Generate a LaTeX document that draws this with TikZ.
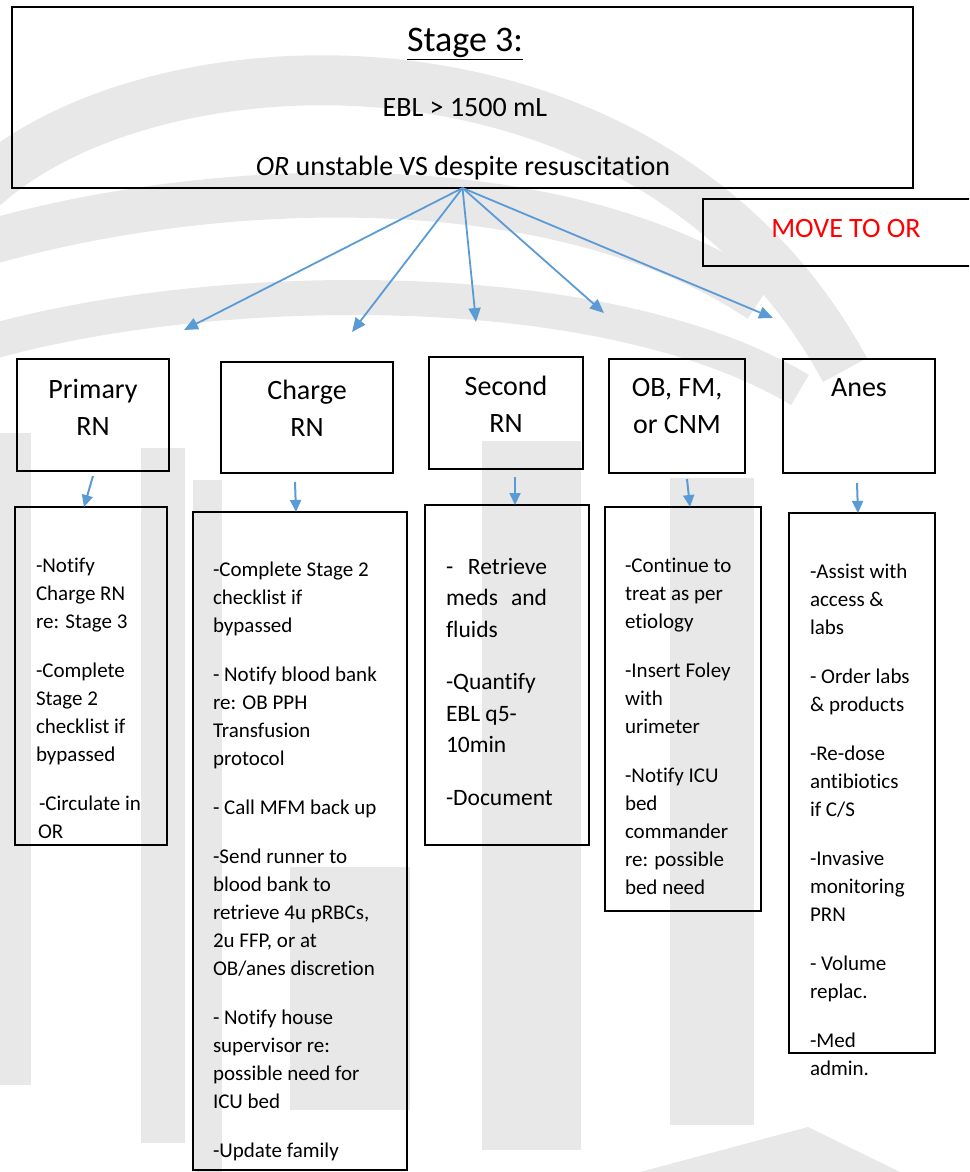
\documentclass[tikz,border=0pt]{standalone}
\usepackage{fontspec}
\setmainfont{Carlito}[Ligatures=NoCommon]
\usetikzlibrary{arrows.meta}
\definecolor{arrowblue}{HTML}{5B9BD5}
\definecolor{wmgray}{HTML}{E8E8E8}
\definecolor{orred}{HTML}{FF0000}

\begin{document}
\begin{tikzpicture}[x=1pt, y=-1pt,
  every node/.style={inner sep=0pt, outer sep=0pt},
  box/.style={draw=black, line width=1.6pt, anchor=north west},
  hdr/.style={font=\fontsize{28}{37}\selectfont, align=center, anchor=north},
  body/.style={font=\fontsize{21}{28}\selectfont, align=left, anchor=north west},
  bigbody/.style={font=\fontsize{23.5}{31.5}\selectfont, align=left, anchor=north west},
  bigarrow/.style={draw=arrowblue, line width=1.8pt, -{Triangle[length=14pt, width=12pt]}},
  smallarrow/.style={draw=arrowblue, line width=2pt, -{Triangle[length=12pt, width=11pt]}},
  wm/.style={fill=wmgray, draw=none},
  wmband/.style={draw=wmgray, line cap=butt},
  ]
  \path[use as bounding box] (0,0) rectangle (969,1172);
  \clip (0,0) rectangle (969,1172);

  % watermark
  \draw[wmband, line width=50pt] (-20,190) .. controls (150,30) and (650,10) .. (845,370);
  \draw[wmband, line width=45pt] (-20,245) .. controls (200,180) and (550,160) .. (760,300);
  \draw[wmband, line width=35pt] (-20,345) .. controls (200,280) and (600,270) .. (800,390);
  \fill[wm] (0,433) rectangle (31,1085);
  \fill[wm] (141,448) rectangle (185,1143);
  \fill[wm] (193,480) rectangle (222,1172);
  \fill[wm] (290,867) rectangle (410,1110);
  \fill[wm] (482,441) rectangle (581,1150);
  \fill[wm] (670,478) rectangle (754,1125);
  \fill[wm] (640,1172) -- (808,1127) -- (900,1172) -- cycle;

  % stage box
  \node[box, minimum width=901pt, minimum height=181pt] (stage) at (12,7) {};
  \node[font=\fontsize{36}{40}\selectfont, anchor=base] (stagetitle) at (465,52) {\underline{Stage 3:}};
  \node[font=\fontsize{28}{32}\selectfont, anchor=base] (ebl) at (465,116) {EBL > 1500 mL};
  \node[font=\fontsize{28}{32}\selectfont, anchor=base] (unstable) at (463,175) {\textit{OR} unstable VS despite resuscitation};

  \node[box, minimum width=290pt, minimum height=67pt] (moveor) at (703,199) {};
  \node[font=\fontsize{28}{32}\selectfont, anchor=base, text=orred] (moveortxt) at (846,237) {MOVE TO OR};

  % role boxes
  \node[box, minimum width=152pt, minimum height=112pt] (hprim) at (17,359) {};
  \node[box, minimum width=172pt, minimum height=111pt] (hchg) at (221,362) {};
  \node[box, minimum width=154pt, minimum height=112pt] (hsec) at (429,357) {};
  \node[box, minimum width=136pt, minimum height=114pt] (hob) at (609,359) {};
  \node[box, minimum width=152pt, minimum height=114pt] (hanes) at (783,359) {};
  \node[hdr] (hprimtxt) at (93,372.5) {\strut Primary\\RN};
  \node[hdr] (hchgtxt) at (307,374) {\strut Charge\\RN};
  \node[hdr] (hsectxt) at (506,369.5) {\strut Second\\RN};
  \node[hdr] (hobtxt) at (677,370.5) {\strut OB, FM,\\or CNM};
  \node[hdr] (hanestxt) at (859,370.5) {\strut Anes};

  % task boxes
  \node[box, minimum width=152pt, minimum height=338pt] (tprim) at (15,507) {};
  \node[box, minimum width=214pt, minimum height=658pt] (tchg) at (193,512) {};
  \node[box, minimum width=164pt, minimum height=340pt] (tsec) at (425,505) {};
  \node[box, minimum width=156pt, minimum height=404pt] (tob) at (605,507) {};
  \node[box, minimum width=146pt, minimum height=540pt] (tanes) at (789,513) {};

  \node[body] (tprimtxt) at (36,552.7) {\strut -Notify\\ Charge RN\\ re: Stage 3\\[21pt]
    -Complete\\ Stage 2\\ checklist if\\ bypassed\\[21pt]
    \hspace{3pt}-Circulate in\\ \hspace{2pt}OR};
  \node[body] (tchgtxt) at (213,556.7) {\strut -Complete Stage 2\\ checklist if\\ bypassed\\[21pt]
    - Notify blood bank\\ re: OB PPH\\ Transfusion\\ protocol\\[21pt]
    - Call MFM back up\\[21pt]
    -Send runner to\\ blood bank to\\ retrieve 4u pRBCs,\\ 2u FFP, or at\\ OB/anes discretion\\[21pt]
    - Notify house\\ supervisor re:\\ possible need for\\ ICU bed\\[21pt]
    -Update family};
  \node[bigbody] (tsectxt) at (446,552) {\strut\makebox[101pt][l]{-\hfill Retrieve}\\ \makebox[101pt][l]{meds\hfill and}\\ fluids\\[21pt]
    -Quantify\\ EBL q5-\\ 10min\\[21pt]
    -Document};
  \node[body] (tobtxt) at (625,552.7) {\strut -Continue to\\ treat as per\\ etiology\\[21pt]
    -Insert Foley\\ with\\ urimeter\\[21pt]
    -Notify ICU\\ bed\\ commander\\ re: possible\\ bed need};
  \node[body] (tanestxt) at (810,558.7) {\strut -Assist with\\ access \&\\ labs\\[21pt]
    - Order labs\\ \& products\\[21pt]
    -Re-dose\\ antibiotics\\ if C/S\\[21pt]
    -Invasive\\ monitoring\\ PRN\\[21pt]
    - Volume\\ replac.\\[21pt]
    -Med\\ admin.};

  % arrows from stage
  \coordinate (tipprim) at (184,330);
  \coordinate (tipchg) at (352,332);
  \coordinate (tipsec) at (476,322);
  \coordinate (tipob) at (604,313);
  \coordinate (tipanes) at (773,318);
  \draw[bigarrow] (stage.south) -- (tipprim);
  \draw[bigarrow] (stage.south) -- (tipchg);
  \draw[bigarrow] (stage.south) -- (tipsec);
  \draw[bigarrow] (stage.south) -- (tipob);
  \draw[bigarrow] (stage.south) -- (tipanes);

  % arrows to task boxes
  \coordinate (sprim) at (93,476);
  \coordinate (schg) at (295,482);
  \coordinate (ssec) at (515,477);
  \coordinate (sob) at (687,479);
  \coordinate (sanes) at (857,483);
  \draw[smallarrow] (sprim) -- ([xshift=69pt]tprim.north west);
  \draw[smallarrow] (schg) -- ([xshift=103pt]tchg.north west);
  \draw[smallarrow] (ssec) -- ([xshift=90pt]tsec.north west);
  \draw[smallarrow] (sob) -- ([xshift=85pt]tob.north west);
  \draw[smallarrow] (sanes) -- ([xshift=69pt]tanes.north west);
\end{tikzpicture}
\end{document}
